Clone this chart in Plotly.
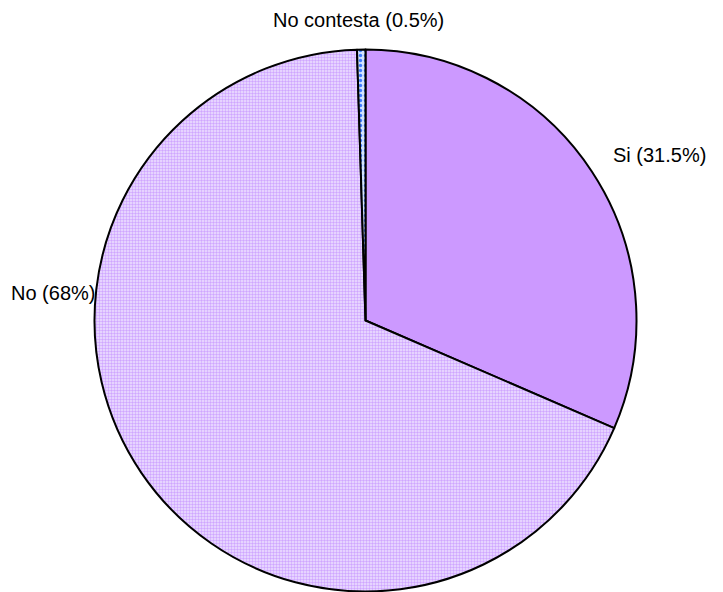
import plotly.graph_objects as go

labels = ["Si", "No", "No contesta"]
values = [31.5, 68, 0.5]
label_text = ["Si (31.5%)", "No (68%)", "No contesta (0.5%)"]

# the page body adds an 8px offset; the figure is sized to fit the window
OFF = 8
W, H = 723 - OFF, 592 - OFF
cx, cy, R = 365.5 - OFF, 320.5 - OFF, 271

fig = go.Figure(go.Pie(
    labels=labels,
    values=values,
    sort=False,
    direction="clockwise",
    rotation=0,
    textinfo="none",
    hoverinfo="label+percent",
    showlegend=False,
    marker=dict(
        colors=["#CC99FF", "#E6D3FF", "#C8DCFF"],
        line=dict(color="black", width=2),
        pattern=dict(
            shape=["", ".", "."],
            fgcolor=["#CC99FF", "#CFA6FF", "#3D7BFF"],
            bgcolor=["#CC99FF", "#EEE2FF", "#D2E3FF"],
            size=[8, 3, 5],
            solidity=[0.3, 0.5, 0.35],
        ),
    ),
    domain=dict(x=[(cx - R) / W, (cx + R) / W], y=[(H - cy - R) / H, (H - cy + R) / H]),
))

# label positions (pixels from top-left of the window)
label_pos = [(611, 155, "left"), (9, 293, "left"), (358, 20, "center")]
for t, (px, py, al) in zip(label_text, label_pos):
    fig.add_annotation(
        text=t, x=(px - OFF) / W, y=1 - (py - OFF) / H, xref="paper", yref="paper",
        xanchor=al, yanchor="middle", showarrow=False,
        font=dict(family="Liberation Sans, Arial, sans-serif", size=20, color="black"),
    )

fig.update_layout(
    width=W, height=H,
    margin=dict(l=0, r=0, t=0, b=0),
    paper_bgcolor="white",
    plot_bgcolor="white",
)
fig.write_html("out.html")
